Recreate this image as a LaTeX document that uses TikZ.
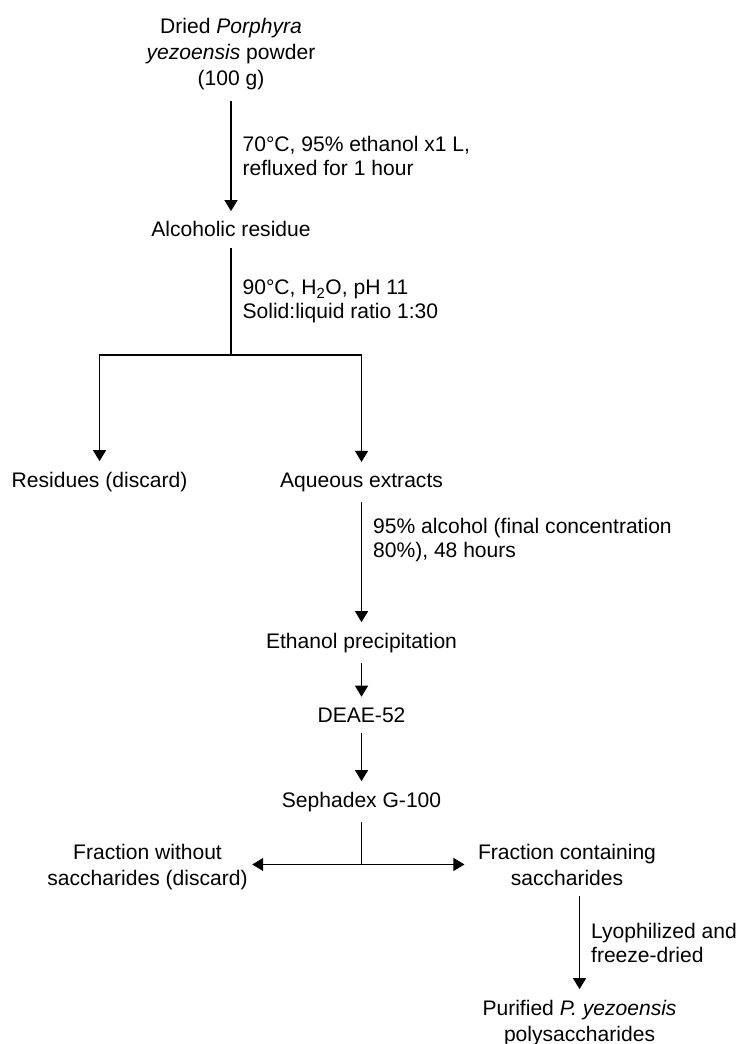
\documentclass[tikz,border=0pt]{standalone}
\usepackage{amsmath}
\usepackage{fontspec}
\setmainfont{Liberation Sans}
\usepackage{tikz}
\usetikzlibrary{positioning}
\usetikzlibrary{arrows.meta, calc}

\tikzset{
  stage/.style={font=\fontsize{15.8pt}{19.5pt}\selectfont, align=center, inner xsep=0pt, inner ysep=7.5pt},
  note/.style={font=\fontsize{15.8pt}{18pt}\selectfont, align=left, anchor=west, inner sep=0pt, xshift=8.25pt},
  flow/.style={-{Triangle[length=8.25pt, width=9.75pt]}},
  every path/.style={line width=0.9pt}
}

\begin{document}
\begin{tikzpicture}
\useasboundingbox (0,0) rectangle (555pt,-783pt);
\node[stage, anchor=base]	(dried)	at (173.25pt,-64.5pt) {Dried \textit{Porphyra}\\\textit{yezoensis} powder\\(100 g)};
\node[stage, below = 113.25pt of dried.base, anchor=base]	(alc)	{Alcoholic residue};
\coordinate[below = 88.5pt of alc.base]	(fork);
\node[stage, below left = 187.5pt and 98.6pt of alc.base, anchor=base]	(res)	{Residues (discard)};
\node[stage, below right = 187.5pt and 97.9pt of alc.base, anchor=base]	(ext)	{Aqueous extracts};
\node[stage, below = 120.75pt of ext.base, anchor=base]	(prec)	{Ethanol precipitation};
\node[stage, below = 55.5pt of prec.base, anchor=base]	(deae)	{DEAE-52};
\node[stage, below = 63.75pt of deae.base, anchor=base]	(seph)	{Sephadex G-100};
\node[stage, below left = 58.5pt and 160.5pt of seph.base, anchor=base]	(fwo)	{Fraction without\\saccharides (discard)};
\node[stage, below right = 58.5pt and 154.1pt of seph.base, anchor=base]	(fc)	{Fraction containing\\saccharides};
\node[stage, below right = 117pt and 9.4pt of fc.base, anchor=base]	(pur)	{Purified \textit{P. yezoensis}\\polysaccharides};
\coordinate (split) at (seph |- fc);

% Connect nodes
\draw[flow] (dried) -- node[note] {70°C, 95\% ethanol x1 L,\\refluxed for 1 hour} (alc);
\draw (alc) -- node[note] {90°C, H\textsubscript{2}O, pH 11\\Solid:liquid ratio 1:30} (fork);
\draw[flow] (fork) -| (res);
\draw[flow] (fork) -| (ext);
\draw[flow] (ext) -- node[note, pos=0.32] {95\% alcohol (final concentration\\80\%), 48 hours} (prec);
\draw[flow] (prec) -- (deae);
\draw[flow] (deae) -- (seph);
\draw (seph) -- (split);
\draw[flow, shorten >=3pt] (split) -- (split -| fwo.east);
\draw[flow, shorten >=9.75pt] (split) -- (split -| fc.west);
\draw[flow] (fc.south -| pur) -- node[note] {Lyophilized and\\freeze-dried} (pur);
\end{tikzpicture}
\end{document}
